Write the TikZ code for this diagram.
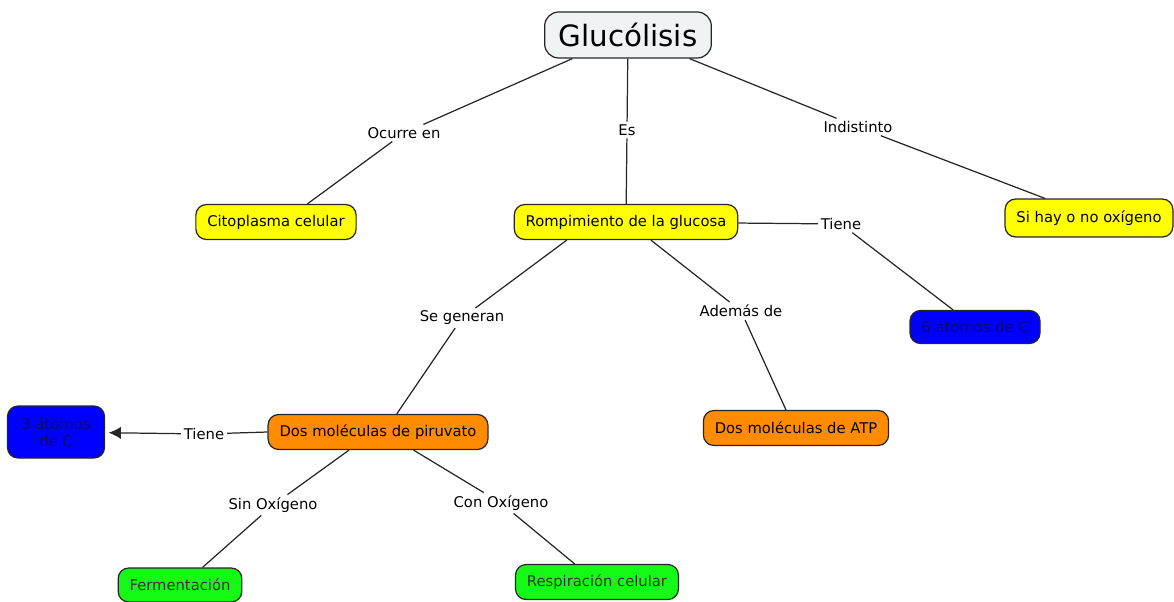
\documentclass[tikz,border=0pt]{standalone}
\usepackage{fontspec}
\setmainfont{DejaVu Sans}
\usepackage{xcolor}
\usetikzlibrary{arrows.meta}
\definecolor{titlefill}{RGB}{239,243,243}
\definecolor{cyellow}{RGB}{255,255,0}
\definecolor{corange}{RGB}{255,140,0}
\definecolor{cblue}{RGB}{0,0,255}
\definecolor{cbluetext}{RGB}{10,10,110}
\definecolor{cgreen}{RGB}{20,250,20}
\tikzset{
	concept/.style={draw=black!85, line width=0.7pt, rounded corners=6pt, inner xsep=6.5pt, minimum height=0.7cm, font=\fontsize{8.4}{10}\selectfont},
	yellowbox/.style={concept, fill=cyellow},
	orangebox/.style={concept, fill=corange},
	bluebox/.style={concept, fill=cblue, text=cbluetext},
	greenbox/.style={concept, fill=cgreen, text=black!80},
	linklabel/.style={inner sep=1.5pt, font=\fontsize{8.4}{10}\selectfont},
	conn/.style={line width=0.7pt, black!85},
}

\begin{document}
\begin{tikzpicture}[x=0.02cm, y=-0.02cm]
			\useasboundingbox (0, 0) rectangle (1174, 602);
			\node[concept, fill=titlefill, font=\fontsize{16.7}{20}\selectfont, inner xsep=8pt, minimum height=0.92cm, rounded corners=8pt] at (628, 35) (title) {Glucólisis};
			\node[yellowbox] at (276, 222) (cito) {Citoplasma celular};
			\node[yellowbox] at (626, 222) (romp) {Rompimiento de la glucosa};
			\node[yellowbox, minimum height=0.76cm] at (1089, 218) (oxi) {Si hay o no oxígeno};
			\node[bluebox, minimum height=0.66cm] at (975, 327) (seis) {6 átomos de C};
			\node[orangebox] at (796, 428) (atp) {Dos moléculas de ATP};
			\node[orangebox] at (378, 432) (piru) {Dos moléculas de piruvato};
			\node[bluebox, align=center, minimum width=1.94cm, minimum height=1.04cm, inner xsep=2pt, font=\fontsize{8.4}{9.6}\selectfont] at (56, 432) (tres) {3 átomos\\de C};
			\node[greenbox, minimum height=0.68cm] at (180, 585) (ferm) {Fermentación};
			\node[greenbox] at (597, 582) (resp) {Respiración celular};

			\node[linklabel] at (404, 133) (ocurre) {Ocurre en};
			\node[linklabel] at (627, 130) (es) {Es};
			\node[linklabel] at (858, 127) (indis) {Indistinto};
			\node[linklabel] at (841, 224) (tieneA) {Tiene};
			\node[linklabel] at (462, 318) (segen) {Se generan};
			\node[linklabel] at (741, 311) (ademas) {Además de};
			\node[linklabel] at (204, 434) (tieneB) {Tiene};
			\node[linklabel] at (273, 505) (sinox) {Sin Oxígeno};
			\node[linklabel] at (501, 503) (conox) {Con Oxígeno};

			\draw[conn] (title.203) -- (ocurre) -- (cito.30);
			\draw[conn] (title) -- (es) -- (romp);
			\draw[conn] (title.339) -- (indis) -- (oxi.156);
			\draw[conn] (romp) -- (tieneA) -- (seis.142);
			\draw[conn] (romp.197) -- (segen) -- (piru.44);
			\draw[conn] (romp.324) -- (ademas) -- (atp.119);
			\draw[conn, -{Latex[length=7pt, width=7pt]}, shorten >=2pt] (piru.west) -- (tieneB) -- (tres);
			\draw[conn] (piru.212) -- (sinox) -- (ferm.38);
			\draw[conn] (piru.333) -- (conox) -- (resp.141);
\end{tikzpicture}
\end{document}
